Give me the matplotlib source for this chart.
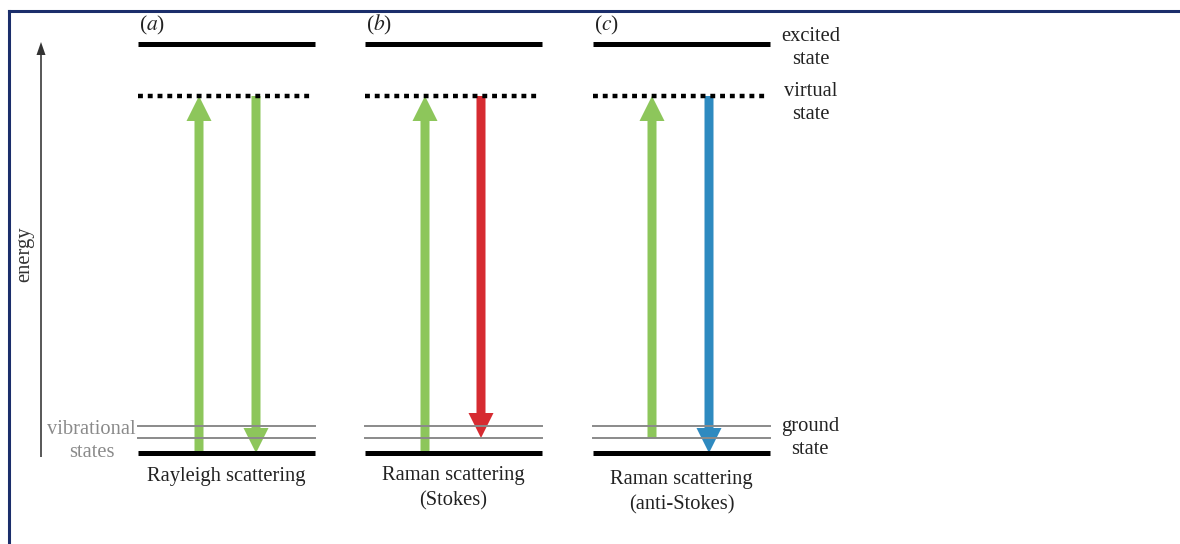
import matplotlib
matplotlib.use("Agg")
import matplotlib.pyplot as plt
from matplotlib.lines import Line2D

plt.rcParams['font.family'] = ['Liberation Serif', 'DejaVu Serif']
plt.rcParams['mathtext.fontset'] = 'stix'

W, H = 1180, 544

# energy levels (arbitrary energy units, upward)
E_ground = 91
E_vib = [106, 118]
E_virtual = 448
E_excited = 500

# panels
panel_labels = ['a', 'b', 'c']
panel_x0 = [138, 365, 593]
panel_width = 177
panel_titles = ['Rayleigh scattering', 'Raman scattering\n(Stokes)', 'Raman scattering\n(anti-Stokes)']

# transitions: (x, start energy, end energy, colour)
up_x = [199, 425, 652]
up_start = [E_ground, E_ground, E_vib[0]]
down_x = [256, 481, 709]
down_end = [E_ground, E_vib[0], E_ground]
down_colors = ['#8DC65B', '#D62B31', '#2E8AC0']
up_color = '#8DC65B'

fig = plt.figure(figsize=(W / 100, H / 100), dpi=100)
ax = fig.add_axes([0, 0, 1, 1])
ax.set_xlim(0, W)
ax.set_ylim(0, H)
ax.axis('off')

tc = '#222222'
fs = 14.8
for i in range(3):
    x0 = panel_x0[i]
    x1 = x0 + panel_width
    ax.plot([x0, x1], [E_excited, E_excited], color='black', lw=3.6, solid_capstyle='butt')
    ax.plot([x0, x1 - 3], [E_virtual, E_virtual], color='black', lw=3.2,
            linestyle=(0, (1.1, 1.1)), dash_capstyle='butt')
    for ev in E_vib:
        ax.plot([x0, x1], [ev, ev], color='#8a8a8a', lw=1.4)
    ax.plot([x0, x1], [E_ground, E_ground], color='black', lw=3.6, solid_capstyle='butt')
    ax.text(x0 + 1, 519, '($a$)'.replace('a', panel_labels[i]), fontsize=15.5, color=tc,
            ha='left', va='center')
    # arrows
    ax.arrow(up_x[i], up_start[i], 0, E_virtual - up_start[i], width=9, head_width=25,
             head_length=25, length_includes_head=True, color=up_color, lw=0)
    ax.arrow(down_x[i], E_virtual, 0, down_end[i] - E_virtual, width=9, head_width=25,
             head_length=25, length_includes_head=True, color=down_colors[i], lw=0)
    cx = x0 + panel_width / 2
    if i == 0:
        ax.text(cx, 68, panel_titles[i], fontsize=fs, color=tc, ha='center', va='center')
    else:
        yy = 68 if i == 1 else 64
        ax.text(cx, yy - 12, panel_titles[i], fontsize=fs, color=tc, ha='center', va='center',
                linespacing=1.45)

# right-side state labels
ls = 1.22
ax.text(811, 496, 'excited\nstate', fontsize=fs, color=tc, ha='center', va='center', linespacing=ls)
ax.text(811, 441, 'virtual\nstate', fontsize=fs, color=tc, ha='center', va='center', linespacing=ls)
ax.text(810, 106, 'ground\nstate', fontsize=fs, color=tc, ha='center', va='center', linespacing=ls)
ax.text(136, 103, 'vibrational\nstates', fontsize=fs, color='#8a8a8a', ha='right', va='center',
        linespacing=ls, multialignment='center')

# energy axis
ax.arrow(41, H - 457, 0, 415, width=1.6, head_width=9, head_length=13,
         length_includes_head=True, color='#333333', lw=0)
ax.text(25, 290, 'energy', fontsize=fs, color='#333333', rotation=90, ha='center', va='center')

# frame border (top and left)
fig.add_artist(Line2D([9 / W, 1], [1 - 11 / H, 1 - 11 / H], transform=fig.transFigure,
                      color='#1b2e6b', lw=2.2))
fig.add_artist(Line2D([9 / W, 9 / W], [0, 1 - 11 / H], transform=fig.transFigure,
                      color='#1b2e6b', lw=2.2))

fig.savefig('out.png', dpi=100, facecolor='white')
